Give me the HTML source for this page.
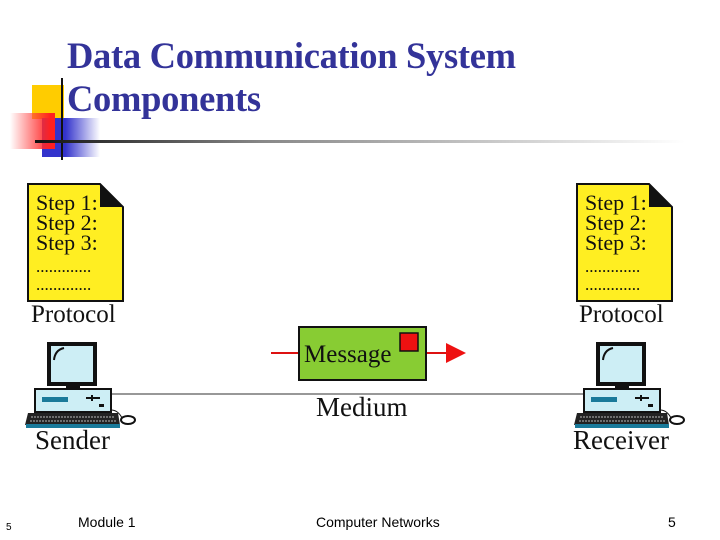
<!DOCTYPE html>
<html><head><meta charset="utf-8"><style>
body{margin:0;width:720px;height:540px;background:#fff;position:relative;overflow:hidden;font-family:"Liberation Serif",serif}
.a{position:absolute}
.title{left:67px;color:#333399;font-weight:bold;font-size:36.5px;line-height:43px;top:34px;letter-spacing:-0.3px;white-space:nowrap}
.ft{font-family:"Liberation Sans",sans-serif;font-size:14px;color:#000;top:514px}
</style></head><body>
<div class="a" style="left:32px;top:85px;width:32px;height:34px;background:#ffcc00"></div>
<div class="a" style="left:42px;top:118px;width:58px;height:39px;background:linear-gradient(90deg,#3333cc 40%,#fff)"></div>
<div class="a" style="left:10px;top:113px;width:45px;height:36px;background:linear-gradient(90deg,rgba(255,255,255,0.2),#ff2020 90%)"></div>
<div class="a" style="left:61px;top:78px;width:2px;height:82px;background:#111"></div>
<div class="a" style="left:35px;top:140px;width:650px;height:3px;background:linear-gradient(90deg,#111,#888 35%,#fff)"></div>
<div class="a title">Data Communication System<br>Components</div>

<svg class="a" style="left:0;top:0" width="720" height="540">
<defs>
<g id="doc">
<path d="M0,0 H72 L95,23 V117 H0 Z" fill="#ffee22" stroke="#111" stroke-width="2"/>
<path d="M72,0 L95,23 H72 Z" fill="#111"/>
<text x="8" y="26" font-size="22" font-family="Liberation Serif" fill="#111">Step 1:</text>
<text x="8" y="46" font-size="22" font-family="Liberation Serif" fill="#111">Step 2:</text>
<text x="8" y="66" font-size="22" font-family="Liberation Serif" fill="#111">Step 3:</text>
<text x="8" y="88" font-size="17" font-family="Liberation Serif" fill="#111">.............</text>
<text x="8" y="106" font-size="17" font-family="Liberation Serif" fill="#111">.............</text>
</g>
<g id="pc">
<rect x="47" y="342" width="50" height="44" fill="#111"/>
<rect x="51" y="346" width="42" height="36" fill="#cdeef5"/>
<path d="M54,360 Q55,350 64,348" stroke="#111" stroke-width="2" fill="none"/>
<rect x="66" y="386" width="14" height="4" fill="#111"/>
<rect x="35" y="389" width="76" height="23" fill="#cdeef5" stroke="#111" stroke-width="2"/>
<rect x="42" y="397" width="26" height="5" fill="#1a7a9a"/>
<path d="M86,398 H100 M92,395 V401" stroke="#111" stroke-width="2"/>
<rect x="99" y="404" width="5" height="3" fill="#111"/>
<path d="M28,413 H118 L120,425 H25 Z" fill="#222"/>
<rect x="26" y="424" width="94" height="4" fill="#1a7a9a"/>
<path d="M31,417 H115 M30,421 H117" stroke="#bbb" stroke-width="1" stroke-dasharray="2,1"/>
<ellipse cx="128" cy="420" rx="7" ry="4" fill="#fff" stroke="#111" stroke-width="2"/>
<path d="M111,410 Q118,410 122,418" stroke="#111" fill="none"/>
</g>
</defs>
<use href="#doc" transform="translate(28,184)"/>
<use href="#doc" transform="translate(577,184)"/>
<line x1="110" y1="394" x2="590" y2="394" stroke="#777" stroke-width="1.5"/>
<use href="#pc"/>
<use href="#pc" transform="translate(549,0)"/>
<line x1="271" y1="353" x2="448" y2="353" stroke="#dd1111" stroke-width="2"/>
<path d="M446,343 L466,353 L446,363 Z" fill="#ee1111"/>
<rect x="299" y="327" width="127" height="53" fill="#88cc33" stroke="#111" stroke-width="2"/>
<rect x="400" y="333" width="18" height="18" fill="#ee1111" stroke="#111" stroke-width="1.5"/>
<text x="304" y="362" font-size="25" font-family="Liberation Serif" fill="#111">Message</text>
<text x="316" y="416" font-size="27" font-family="Liberation Serif" fill="#111">Medium</text>
<text x="31" y="322" font-size="25" font-family="Liberation Serif" fill="#111">Protocol</text>
<text x="579" y="322" font-size="25" font-family="Liberation Serif" fill="#111">Protocol</text>
<text x="35" y="449" font-size="27" font-family="Liberation Serif" fill="#111">Sender</text>
<text x="573" y="449" font-size="27" font-family="Liberation Serif" fill="#111">Receiver</text>
</svg>

<div class="a ft" style="left:6px;top:522px;font-size:10px">5</div>
<div class="a ft" style="left:78px">Module 1</div>
<div class="a ft" style="left:316px">Computer Networks</div>
<div class="a ft" style="left:668px">5</div>
</body></html>
